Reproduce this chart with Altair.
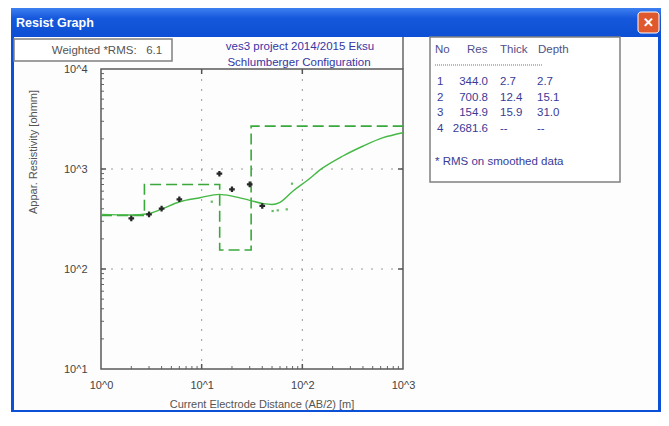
import altair as alt
import pandas as pd

# ---------------- data ----------------
obs_ab2 = [2, 3, 4, 6, 15, 20, 30, 40]
obs_rho = [321, 352, 401, 498, 897, 627, 703, 427]

curve_ab2 = [1, 1.94, 2.95, 3.9, 5.95, 9.6, 15, 20.6, 30, 41, 50, 60, 81, 110, 161, 253, 403, 634, 1000]
curve_rho = [352, 347, 357, 392, 468, 516, 558, 533, 486, 450, 442, 464, 603, 759, 1031, 1349, 1698, 2056, 2307]

calc_ab2 = [12.6, 50.7, 57, 70, 79]
calc_rho = [471, 380, 386, 395, 713]

layer_no = [1, 2, 3, 4]
layer_res = [344.0, 700.8, 154.9, 2681.6]
layer_thick = [2.7, 12.4, 15.9, None]
layer_depth = [2.7, 15.1, 31.0, None]

rms_value = 6.1
x_ticks = [1, 10, 100, 1000]
y_ticks = [10, 100, 1000, 10000]
grid_x = [10, 100]
grid_y = [100, 1000]
minor_x = [2, 3, 4, 5, 6, 7, 8, 9, 20, 30, 40, 50, 60, 70, 80, 90, 200, 300, 400, 500, 600, 700, 800, 900]
minor_y = [20, 30, 40, 50, 60, 70, 80, 90, 200, 300, 400, 500, 600, 700, 800, 900,
           2000, 3000, 4000, 5000, 6000, 7000, 8000, 9000]

# ---------------- layout ----------------
W, H = 302, 300
OX, OY = 101, 69  # page position of plot origin
FONT = "Liberation Sans"
NB = "\u00a0"

xs = alt.Scale(type="log", domain=[1, 1000])
ys = alt.Scale(type="log", domain=[10, 10000])
xaxis = alt.Axis(values=x_ticks, labelExpr="'10^' + round(log(datum.value)/LN10)", ticks=False,
                 domain=False, grid=False, title=None, labelPadding=10, labelFontSize=11,
                 labelColor="#444", labelFont=FONT, labelFlush=False, labelOverlap=False, zindex=1)
yaxis = alt.Axis(values=y_ticks, labelExpr="'10^' + round(log(datum.value)/LN10)", ticks=False,
                 domain=False, grid=False, title=None, labelPadding=14, labelFontSize=11,
                 labelColor="#444", labelFont=FONT, labelFlush=False, labelOverlap=False, zindex=1)

one = pd.DataFrame({"a": [0]})


def X(field):
    return alt.X(f"{field}:Q", scale=xs, axis=xaxis)


def Y(field):
    return alt.Y(f"{field}:Q", scale=ys, axis=yaxis)


def box(x1, y1, x2, y2, fill="white", stroke=None, sw=1, **kw):
    args = dict(fill=fill, strokeWidth=sw, **kw)
    if stroke:
        args["stroke"] = stroke
    return alt.Chart(one).mark_rect(**args).encode(
        x=alt.value(x1 - OX), x2=alt.value(x2 - OX), y=alt.value(y1 - OY), y2=alt.value(y2 - OY))


def txt(s, x, y, size=11, color="#444", align="left", weight="normal", baseline="middle", angle=None, lh=None):
    args = dict(text=s, fontSize=size, color=color, align=align, baseline=baseline, font=FONT,
                fontWeight=weight)
    if angle is not None:
        args["angle"] = angle
    if lh is not None:
        args["lineHeight"] = lh
    return alt.Chart(one).mark_text(**args).encode(x=alt.value(x - OX), y=alt.value(y - OY))


def hline(x1, x2, y, color, sw=1, dash=None):
    args = dict(color=color, strokeWidth=sw)
    if dash:
        args["strokeDash"] = dash
    return alt.Chart(one).mark_rule(**args).encode(
        x=alt.value(x1 - OX), x2=alt.value(x2 - OX), y=alt.value(y - OY))


def vline(x, y1, y2, color, sw=1):
    return alt.Chart(one).mark_rule(color=color, strokeWidth=sw).encode(
        x=alt.value(x - OX), y=alt.value(y1 - OY), y2=alt.value(y2 - OY))


layers = []

# ---------------- window chrome ----------------
layers.append(box(11, 8, 661, 412, fill="#0b50d6"))
layers.append(box(11, 8, 661, 37, fill=alt.LinearGradient(
    gradient="linear", x1=0, x2=0, y1=0, y2=1,
    stops=[alt.GradientStop(color="#3d80f0", offset=0),
           alt.GradientStop(color="#1658dc", offset=0.35),
           alt.GradientStop(color="#0c4fd4", offset=1)])))
layers.append(box(14, 37, 658, 410, fill="#fdfdfd"))
layers.append(txt("Resist Graph", 16, 23, size=12.5, color="white", weight="bold"))
layers.append(box(638, 12, 659, 33, fill="#e0582e", stroke="white", sw=1, cornerRadius=3))
layers.append(txt("✕", 648.5, 23, size=13, color="white", align="center", weight="bold"))

# weighted RMS box
layers.append(box(14, 39, 172, 61, fill="white", stroke="#808080", sw=1.5))
layers.append(txt(f"Weighted{NB}*RMS:{NB}{NB}{NB}{rms_value}", 107, 51, size=11.5, color="#555", align="center"))

# titles
layers.append(txt("ves3 project 2014/2015 Eksu", 300, 47, size=11.5, color="#3535a5", align="center"))
layers.append(txt("Schlumberger Configuration", 299, 63, size=11.5, color="#3535a5", align="center"))
layers.append(vline(403, 37, 69, "#666", 1.5))

# right table panel
layers.append(box(430, 37, 620, 182, fill="white", stroke="#808080", sw=1.5))
tcol = "#3a3a96"
layers.append(txt("No", 435, 50, size=11.5, color="#50508a"))
layers.append(txt("Res", 467, 50, size=11.5, color="#50508a"))
layers.append(txt("Thick", 500, 50, size=11.5, color="#50508a"))
layers.append(txt("Depth", 538, 50, size=11.5, color="#50508a"))
layers.append(hline(435, 543, 65, "#6a6ab0", 1, [1, 1]))
LH = 15.7
layers.append(txt([str(n) for n in layer_no], 437, 76, size=11.5, color=tcol, baseline="top", lh=LH))
layers.append(txt([f"{v:.1f}" for v in layer_res], 488, 76, size=11.5, color=tcol, align="right",
                  baseline="top", lh=LH))
layers.append(txt([f"{v:.1f}" if v is not None else f"{NB}{NB}--" for v in layer_thick], 500, 76, size=11.5,
                  color=tcol, baseline="top", lh=LH))
layers.append(txt([f"{v:.1f}" if v is not None else "--" for v in layer_depth], 537, 76, size=11.5,
                  color=tcol, baseline="top", lh=LH))
layers.append(txt("* RMS on smoothed data", 435, 162, size=11.5, color=tcol))

# axis titles
layers.append(txt("Appar. Resistivity [ohmm]", 34, 152, size=11, color="#555", align="center", angle=270))
layers.append(txt("Current Electrode Distance (AB/2) [m]", 262, 405, size=11, color="#555", align="center"))

# ---------------- plot content ----------------
gx = pd.DataFrame({"gx": grid_x})
gy = pd.DataFrame({"gy": grid_y})
layers.append(alt.Chart(gx).mark_rule(color="#9a9a9a", strokeDash=[2, 8], strokeWidth=1).encode(
    x=X("gx"), y=alt.value(0), y2=alt.value(H)))
layers.append(alt.Chart(gy).mark_rule(color="#9a9a9a", strokeDash=[2, 8], strokeWidth=1).encode(
    y=Y("gy"), x=alt.value(0), x2=alt.value(W)))

mx = pd.DataFrame({"mx": minor_x})
my = pd.DataFrame({"my": minor_y})
layers.append(alt.Chart(mx).mark_rule(color="#666", strokeWidth=1).encode(
    x=X("mx"), y=alt.value(H - 3), y2=alt.value(H)))
layers.append(alt.Chart(my).mark_rule(color="#666", strokeWidth=1).encode(
    y=Y("my"), x=alt.value(0), x2=alt.value(3)))
layers.append(alt.Chart(gx).mark_rule(color="#555", strokeWidth=1.5).encode(
    x=X("gx"), y=alt.value(H - 5), y2=alt.value(H)))
layers.append(alt.Chart(gx).mark_rule(color="#555", strokeWidth=1.5).encode(
    x=X("gx"), y=alt.value(0), y2=alt.value(5)))
layers.append(alt.Chart(gy).mark_rule(color="#555", strokeWidth=1.5).encode(
    y=Y("gy"), x=alt.value(0), x2=alt.value(5)))
layers.append(alt.Chart(gy).mark_rule(color="#555", strokeWidth=1.5).encode(
    y=Y("gy"), x=alt.value(W - 5), x2=alt.value(W)))

# plot frame
layers.append(alt.Chart(one).mark_rect(fill=None, stroke="#5a5a5a", strokeWidth=1.5).encode(
    x=alt.value(0), x2=alt.value(W), y=alt.value(0), y2=alt.value(H)))

# step model from layer table
step_x, step_y = [1], [layer_res[0]]
for i, d in enumerate(layer_depth[:-1]):
    step_x += [d, d]
    step_y += [layer_res[i], layer_res[i + 1]]
step_x.append(1000)
step_y.append(layer_res[-1])
step_df = pd.DataFrame({"sx": step_x, "sy": step_y, "o": range(len(step_x))})
layers.append(alt.Chart(step_df).mark_line(color="#3aa83a", strokeWidth=1.6, strokeDash=[11, 5]).encode(
    x=X("sx"), y=Y("sy"), order="o:Q"))

curve_df = pd.DataFrame({"cx": curve_ab2, "cy": curve_rho, "o": range(len(curve_ab2))})
layers.append(alt.Chart(curve_df).mark_line(color="#45b845", strokeWidth=1.4, interpolate="monotone").encode(
    x=X("cx"), y=Y("cy"), order="o:Q"))

calc_df = pd.DataFrame({"kx": calc_ab2, "ky": calc_rho})
layers.append(alt.Chart(calc_df).mark_point(shape="square", filled=True, size=5, color="#66bb66", opacity=1).encode(
    x=X("kx"), y=Y("ky")))

obs_df = pd.DataFrame({"ox": obs_ab2, "oy": obs_rho})
layers.append(alt.Chart(obs_df).mark_point(shape="cross", filled=True, size=32, color="#262626", opacity=1).encode(
    x=X("ox"), y=Y("oy")))

chart = alt.layer(*layers).properties(
    width=W, height=H,
    autosize=alt.AutoSizeParams(type="none"),
    padding={"left": OX - 8, "top": OY - 8, "right": 653 - (OX - 8) - W, "bottom": 404 - (OY - 8) - H},
    background="white",
).configure_view(stroke=None)

chart.save("out.html", embed_options={"renderer": "svg", "actions": False})
